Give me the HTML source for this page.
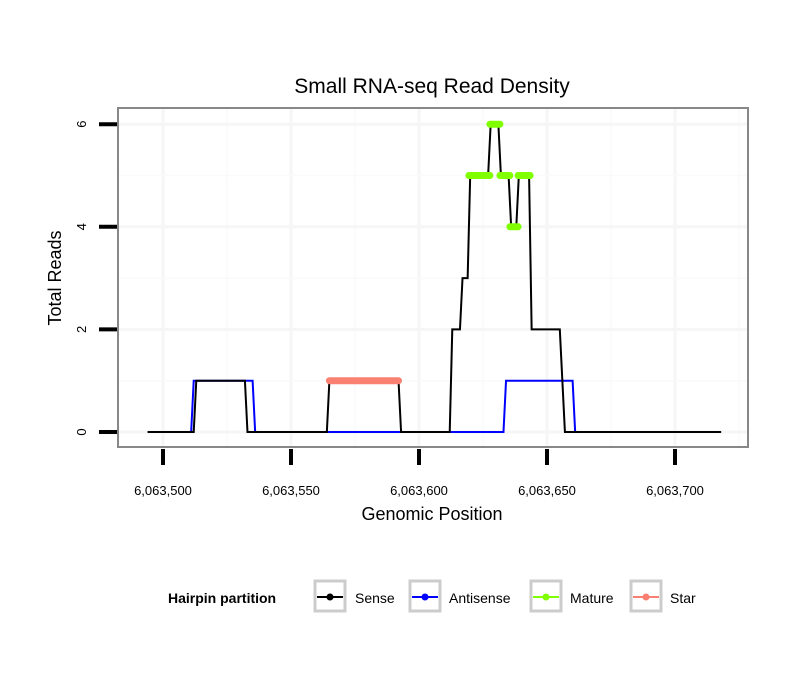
<!DOCTYPE html>
<html><head><meta charset="utf-8"><style>
body{margin:0;background:#fff;font-family:"Liberation Sans",sans-serif}
</style></head><body>
<svg id="chart" width="810" height="690" xmlns="http://www.w3.org/2000/svg" font-family="Liberation Sans, sans-serif">
<rect width="810" height="690" fill="#fff"/>
<text x="432" y="93" text-anchor="middle" font-size="21">Small RNA-seq Read Density</text>
<g id="grid"></g>
<g id="series"></g>
<rect x="118" y="108" width="630" height="339" fill="none" stroke="#888" stroke-width="2"/>
<g id="axes"></g>
<text x="432" y="520" text-anchor="middle" font-size="18">Genomic Position</text>
<text transform="translate(61,278) rotate(-90)" text-anchor="middle" font-size="18">Total Reads</text>
<g>
<text x="168" y="603" font-size="14" font-weight="bold">Hairpin partition</text>
<g><rect x="315" y="581" width="30" height="30" fill="#fff" stroke="#ccc" stroke-width="3"/><line x1="317" y1="597" x2="343" y2="597" stroke="#000" stroke-width="2"/><circle cx="330" cy="597" r="3.5" fill="#000"/><text x="355" y="603" font-size="14">Sense</text></g>
<g><rect x="410" y="581" width="30" height="30" fill="#fff" stroke="#ccc" stroke-width="3"/><line x1="412" y1="597" x2="438" y2="597" stroke="#00f" stroke-width="2"/><circle cx="425" cy="597" r="3.5" fill="#00f"/><text x="449" y="603" font-size="14">Antisense</text></g>
<g><rect x="531" y="581" width="30" height="30" fill="#fff" stroke="#ccc" stroke-width="3"/><line x1="533" y1="597" x2="559" y2="597" stroke="#7fff00" stroke-width="2"/><circle cx="546" cy="597" r="3.5" fill="#7fff00"/><text x="570" y="603" font-size="14">Mature</text></g>
<g><rect x="631" y="581" width="30" height="30" fill="#fff" stroke="#ccc" stroke-width="3"/><line x1="633" y1="597" x2="659" y2="597" stroke="#fa8072" stroke-width="2"/><circle cx="646" cy="597" r="3.5" fill="#fa8072"/><text x="670" y="603" font-size="14">Star</text></g>
</g>
</svg>
<script>
const xTicks=[6063500,6063550,6063600,6063650,6063700];
const xTickLabels=["6,063,500","6,063,550","6,063,600","6,063,650","6,063,700"];
const yTicks=[0,2,4,6];
const yMinor=[1,3,5];
const senseX=[6063494,6063512,6063513,6063532,6063533,6063564,6063565,6063592,6063593,6063612,6063613,6063616,6063617,6063619,6063620,6063627,6063628,6063631,6063632,6063635,6063636,6063638,6063639,6063643,6063644,6063655,6063657,6063718];
const senseY=[0,0,1,1,0,0,1,1,0,0,2,2,3,3,5,5,6,6,5,5,4,4,5,5,2,2,0,0];
const antiX=[6063494,6063511,6063512,6063535,6063536,6063633,6063634,6063660,6063661,6063718];
const antiY=[0,0,1,1,0,0,1,1,0,0];
const matureStart=[6063619.5,6063627.7,6063631.6,6063635.5,6063638.7];
const matureEnd=[6063627.7,6063631.6,6063635.5,6063638.7,6063643.4];
const matureY=[5,6,5,4,5];
const starStart=[6063565];
const starEnd=[6063592];
const starY=[1];
const X=v=>163+(v-6063500)*2.56;
const Y=v=>432-v*51.3;
const NS="http://www.w3.org/2000/svg";
function mk(tag,attrs,parent){const e=document.createElementNS(NS,tag);for(const k in attrs)e.setAttribute(k,attrs[k]);parent.appendChild(e);return e;}
const grid=document.getElementById('grid'),ser=document.getElementById('series'),ax=document.getElementById('axes');
const xMinor=[6063525,6063575,6063625,6063675,6063725];
xMinor.forEach(v=>{const l=mk('line',{x1:X(v),x2:X(v),y1:109,y2:446,stroke:'#fafafa','stroke-width':1.5},grid);});
xTicks.forEach(v=>{const l=mk('line',{x1:X(v),x2:X(v),y1:109,y2:446,stroke:'#f6f6f6','stroke-width':3},grid);});
yMinor.forEach(v=>{const l=mk('line',{x1:119,x2:747,y1:Y(v),y2:Y(v),stroke:'#fafafa','stroke-width':1.5},grid);});
yTicks.forEach(v=>{const l=mk('line',{x1:119,x2:747,y1:Y(v),y2:Y(v),stroke:'#f6f6f6','stroke-width':3},grid);});
const pts=(xs,ys)=>xs.map((x,i)=>X(x)+','+Y(ys[i])).join(' ');
const ap=mk('polyline',{points:pts(antiX,antiY),fill:'none',stroke:'#00f','stroke-width':2},ser);

const sp=mk('polyline',{points:pts(senseX,senseY),fill:'none',stroke:'#000','stroke-width':2},ser);

starStart.forEach((s,i)=>{const l=mk('line',{x1:X(s),x2:X(starEnd[i]),y1:Y(starY[i]),y2:Y(starY[i]),stroke:'#fa8072','stroke-width':7,'stroke-linecap':'round'},ser);});
matureStart.forEach((s,i)=>{const l=mk('line',{x1:X(s),x2:X(matureEnd[i]),y1:Y(matureY[i]),y2:Y(matureY[i]),stroke:'#7fff00','stroke-width':7,'stroke-linecap':'round'},ser);});
xTicks.forEach((v,i)=>{
 const t=mk('line',{x1:X(v),x2:X(v),y1:449,y2:465,stroke:'#000','stroke-width':4},ax);
 
 const tx=mk('text',{x:X(v),y:495,'text-anchor':'middle','font-size':13},ax);tx.textContent=xTickLabels[i];
 
});
yTicks.forEach(v=>{
 const t=mk('line',{x1:99,x2:117,y1:Y(v),y2:Y(v),stroke:'#000','stroke-width':4},ax);
 
 const tx=mk('text',{transform:`translate(86,${Y(v)}) rotate(-90)`,'text-anchor':'middle','font-size':13},ax);tx.textContent=v;
 
});
</script>
</body></html>
